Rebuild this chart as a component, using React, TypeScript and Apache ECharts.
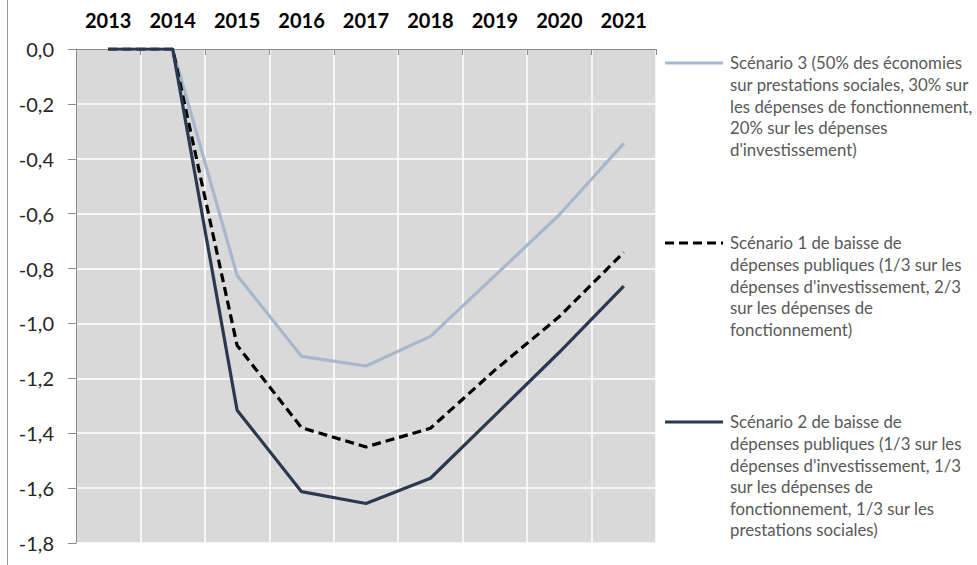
import React, { useEffect, useRef } from "react";
import * as echarts from "echarts";

// Years on the horizontal axis
const years = ["2013", "2014", "2015", "2016", "2017", "2018", "2019", "2020", "2021"];

// Deviation of activity (points) under each spending-cut scenario
const scenario3 = [0, 0, -0.825, -1.12, -1.155, -1.047, -0.826, -0.604, -0.344];
const scenario1 = [0, 0, -1.08, -1.38, -1.45, -1.382, -1.17, -0.975, -0.741];
const scenario2 = [0, 0, -1.316, -1.613, -1.656, -1.564, -1.335, -1.105, -0.864];

const seriesNames = ["Scénario 3", "Scénario 1", "Scénario 2"];

// Wrapped legend captions
const legendScenario3 = [
  "Scénario 3 (50% des économies",
  "sur prestations sociales, 30% sur",
  "les dépenses de fonctionnement,",
  "20% sur les dépenses",
  "d'investissement)",
];
const legendScenario1 = [
  "Scénario 1 de baisse de",
  "dépenses publiques (1/3 sur les",
  "dépenses d'investissement, 2/3",
  "sur les dépenses de",
  "fonctionnement)",
];
const legendScenario2 = [
  "Scénario 2 de baisse de",
  "dépenses publiques (1/3 sur les",
  "dépenses d'investissement, 1/3",
  "sur les dépenses de",
  "fonctionnement, 1/3 sur les",
  "prestations sociales)",
];

const COLOR_S3 = "#a7b8cd";
const COLOR_S1 = "#000000";
const COLOR_S2 = "#2b3950";
const FONT = "Lato, 'Open Sans', sans-serif";
const LEGEND_LINE_HEIGHT = 21.6;

function legendEntry(
  y: number,
  lines: string[],
  color: string,
  dashed: boolean
): any[] {
  return [
    {
      type: "line",
      shape: { x1: 665, y1: y, x2: 723, y2: y },
      style: {
        stroke: color,
        lineWidth: 3,
        lineDash: dashed ? [9, 5] : null,
      },
    },
    {
      type: "text",
      x: 730,
      y: y - LEGEND_LINE_HEIGHT / 2,
      style: {
        text: lines.join("\n"),
        fill: "#595959",
        font: `16.8px ${FONT}`,
        lineHeight: LEGEND_LINE_HEIGHT,
        verticalAlign: "top",
        align: "left",
      },
    },
  ];
}

export default function App() {
  const ref = useRef<HTMLDivElement>(null);

  useEffect(() => {
    if (!ref.current) return;
    const chart = echarts.init(ref.current, null, { renderer: "svg" });

    const fmt = (v: number) => {
      const s = Math.abs(v).toFixed(1).replace(".", ",");
      return v < -1e-9 ? "-" + s : s;
    };

    chart.setOption({
      animation: false,
      backgroundColor: "#ffffff",
      grid: {
        left: 76,
        right: 321,
        top: 49,
        bottom: 22,
        show: true,
        backgroundColor: "#d9d9d9",
        borderWidth: 0,
      },
      xAxis: {
        type: "category",
        data: years,
        position: "top",
        boundaryGap: true,
        axisLine: { show: true, lineStyle: { color: "#8c8c8c", width: 1 } },
        axisTick: { show: true, inside: true, length: 6, lineStyle: { color: "#8c8c8c" } },
        axisLabel: {
          color: "#000000",
          fontFamily: FONT,
          fontWeight: "bold",
          fontSize: 20,
          margin: 19,
        },
        splitLine: { show: true, lineStyle: { color: "#ffffff", width: 1.5 } },
      },
      yAxis: {
        type: "value",
        min: -1.8,
        max: 0,
        interval: 0.2,
        axisLine: { show: true, lineStyle: { color: "#8c8c8c", width: 1 } },
        axisTick: { show: true, length: 8, lineStyle: { color: "#8c8c8c" } },
        axisLabel: {
          color: "#262626",
          fontFamily: FONT,
          fontSize: 20,
          margin: 22,
          formatter: fmt,
        },
        splitLine: { show: true, lineStyle: { color: "#ffffff", width: 1.5 } },
      },
      series: [
        {
          name: seriesNames[0],
          type: "line",
          data: scenario3,
          symbol: "none",
          lineStyle: { color: COLOR_S3, width: 3.2 },
          z: 2,
        },
        {
          name: seriesNames[1],
          type: "line",
          data: scenario1,
          symbol: "none",
          lineStyle: { color: COLOR_S1, width: 3.2, type: [9, 5] },
          z: 3,
        },
        {
          name: seriesNames[2],
          type: "line",
          data: scenario2,
          symbol: "none",
          lineStyle: { color: COLOR_S2, width: 3.2 },
          z: 4,
        },
      ],
      graphic: [
        {
          type: "line",
          shape: { x1: 7.5, y1: 0, x2: 7.5, y2: 565 },
          style: { stroke: "#9a9a9a", lineWidth: 1 },
        },
        ...legendEntry(63, legendScenario3, COLOR_S3, false),
        ...legendEntry(243, legendScenario1, COLOR_S1, true),
        ...legendEntry(422, legendScenario2, COLOR_S2, false),
      ],
    });

    return () => chart.dispose();
  }, []);

  return (
    <div
      ref={ref}
      style={{ position: "absolute", left: 0, top: 0, width: 977, height: 565 }}
    />
  );
}
